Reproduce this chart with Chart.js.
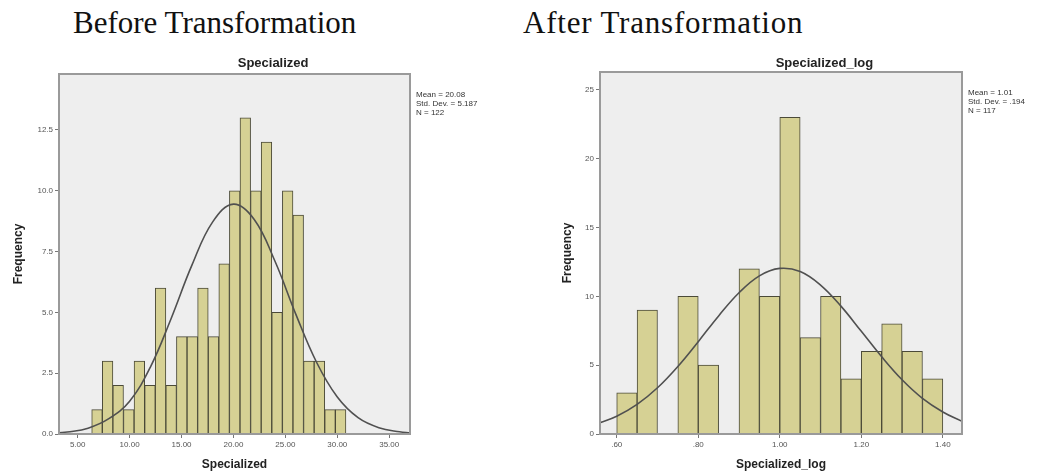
<!DOCTYPE html>
<html>
<head>
<meta charset="utf-8">
<script src="https://cdn.jsdelivr.net/npm/chart.js@4.4.1/dist/chart.umd.min.js"></script>
<style>
    body { margin: 0; background: #fff; width: 1046px; height: 476px; position: relative; overflow: hidden; }
    .heading { position: absolute; font-family: "Liberation Serif", "Times New Roman", serif; font-size: 31px; line-height: 31px; color: #111; white-space: nowrap; }
    .box { position: absolute; top: 50px; height: 426px; }
</style>
</head>
<body>
<div class="heading" style="left: 73px; top: 7px;">Before Transformation</div>
<div class="heading" style="left: 523px; top: 7px; letter-spacing: 0.8px;">After Transformation</div>
<div class="box" style="left: 0; width: 520px;"><canvas id="js--chart--1"></canvas></div>
<div class="box" style="left: 520px; width: 526px;"><canvas id="js--chart--2"></canvas></div>
<script>
// histogram before transformation (bin centres + counts)
const beforeBins = [6.86, 7.88, 8.90, 9.92, 10.94, 11.96, 12.98, 14.00, 15.02, 16.04, 17.06, 18.08,
    19.10, 20.12, 21.14, 22.16, 23.18, 24.20, 25.22, 26.24, 27.26, 28.28, 29.30, 30.32];
const beforeCounts = [1, 3, 2, 1, 3, 2, 6, 2, 4, 4, 6, 4, 7, 10, 13, 10, 12, 5, 10, 9, 3, 3, 1, 1];
// normal curve
const beforeCurveX = [3.2, 4, 6, 8, 10, 12, 14, 16, 18, 20, 22, 24, 26, 28, 30, 32, 34, 36, 37];
const beforeCurveY = [0.05, 0.08, 0.24, 0.63, 1.35, 2.75, 4.75, 6.94, 8.72, 9.45, 8.82, 7.10, 4.93, 2.95, 1.52, 0.67, 0.26, 0.09, 0.05];
const beforeStats = ["Mean = 20.08", "Std. Dev. = 5.187", "N = 122"];

// histogram after transformation
const afterBins = [0.625, 0.675, 0.725, 0.775, 0.825, 0.875, 0.925, 0.975,
    1.025, 1.075, 1.125, 1.175, 1.225, 1.275, 1.325, 1.375];
const afterCounts = [3, 9, 0, 10, 5, 0, 12, 10, 23, 7, 10, 4, 6, 8, 6, 4];
const afterCurveX = [0.559, 0.60, 0.65, 0.70, 0.75, 0.80, 0.85, 0.90, 0.95, 1.00, 1.05, 1.10, 1.15, 1.20, 1.25, 1.30, 1.35, 1.40, 1.447];
const afterCurveY = [0.82, 1.29, 2.15, 3.36, 4.91, 6.71, 8.58, 10.26, 11.49, 12.03, 11.80, 10.82, 9.29, 7.46, 5.61, 3.94, 2.59, 1.60, 0.92];
const afterStats = ["Mean = 1.01", "Std. Dev. = .194", "N = 117"];

const spssFrame = {
    id: 'spssFrame',
    beforeDraw(chart) {
        const a = chart.chartArea, ctx = chart.ctx;
        ctx.save();
        ctx.fillStyle = '#eeeeee';
        ctx.fillRect(a.left, a.top, a.width, a.height);
        ctx.restore();
    },
    afterDraw(chart, args, opts) {
        const a = chart.chartArea, ctx = chart.ctx;
        ctx.save();
        ctx.strokeStyle = '#9a9a9a';
        ctx.lineWidth = 2;
        ctx.strokeRect(a.left, a.top, a.width, a.height);
        ctx.fillStyle = '#222';
        ctx.font = 'bold 13px "Liberation Sans", Arial, sans-serif';
        ctx.textAlign = 'center';
        ctx.textBaseline = 'middle';
        ctx.fillText(opts.title, a.left + a.width * opts.titleAt, a.top - opts.titleGap);
        ctx.font = '8px "Liberation Sans", Arial, sans-serif';
        ctx.fillStyle = '#333';
        ctx.textAlign = 'left';
        opts.stats.forEach(function (line, i) {
            ctx.fillText(line, a.right + 6, a.top + 21 + i * 8.7);
        });
        ctx.restore();
    }
};

function makeConfig(bins, counts, curveX, curveY, opts) {
    return {
        type: 'bar',
        data: {
            datasets: [
                {
                    type: 'line',
                    data: curveX.map(function (x, i) { return {x: x, y: curveY[i]}; }),
                    borderColor: '#505050',
                    borderWidth: 1.6,
                    pointRadius: 0,
                    tension: 0.4,
                    order: 0,
                },
                {
                    data: bins.map(function (x, i) { return {x: x, y: counts[i]}; }),
                    backgroundColor: '#d6d194',
                    borderColor: '#4b4a38',
                    borderWidth: 1,
                    barPercentage: 1,
                    categoryPercentage: 1,
                    order: 1,
                }
            ]
        },
        options: {
            responsive: false,
            animation: false,
            layout: {padding: {top: opts.padTop, right: opts.padRight, left: 0, bottom: 0}},
            plugins: {
                legend: {display: false},
                tooltip: {enabled: false},
                spssFrame: {title: opts.title, titleAt: opts.titleAt, titleGap: opts.titleGap, stats: opts.stats},
            },
            scales: {
                x: {
                    type: 'linear',
                    offset: false,
                    min: opts.xMin,
                    max: opts.xMax,
                    afterFit: function (s) { s.height = 42; },
                    border: {display: false},
                    grid: {drawOnChartArea: false, tickLength: 4, color: '#777', offset: false},
                    ticks: {
                        stepSize: opts.xStep,
                        includeBounds: false,
                        maxRotation: 0,
                        padding: 2,
                        color: '#555',
                        font: {size: 8, family: '"Liberation Sans", Arial, sans-serif'},
                        callback: opts.xFormat,
                    },
                    title: {
                        display: true,
                        text: opts.xTitle,
                        color: '#222',
                        font: {size: 12, weight: 'bold', family: '"Liberation Sans", Arial, sans-serif'},
                        padding: {top: 0, bottom: 4},
                    },
                },
                y: {
                    min: 0,
                    max: opts.yMax,
                    afterFit: function (s) { s.width = opts.yWidth; },
                    border: {display: false},
                    grid: {drawOnChartArea: false, tickLength: 4, color: '#777'},
                    ticks: {
                        stepSize: opts.yStep,
                        includeBounds: false,
                        padding: 2,
                        color: '#555',
                        font: {size: 8, family: '"Liberation Sans", Arial, sans-serif'},
                        callback: opts.yFormat,
                    },
                    title: {
                        display: true,
                        text: 'Frequency',
                        color: '#222',
                        font: {size: 12, weight: 'bold', family: '"Liberation Sans", Arial, sans-serif'},
                        padding: {top: opts.yTitlePad, bottom: 0},
                    },
                }
            }
        },
        plugins: [spssFrame],
    };
}

const config1 = makeConfig(beforeBins, beforeCounts, beforeCurveX, beforeCurveY, {
    padTop: 24, padRight: 110, yWidth: 59, yTitlePad: 11,
    xMin: 3.2, xMax: 37, xStep: 5, yMax: 14.8, yStep: 2.5,
    xFormat: function (v) { return v.toFixed(2); },
    yFormat: function (v) { return v.toFixed(1); },
    xTitle: 'Specialized', title: 'Specialized', titleAt: 0.61, titleGap: 11, stats: beforeStats,
});

const config2 = makeConfig(afterBins, afterCounts, afterCurveX, afterCurveY, {
    padTop: 22, padRight: 84, yWidth: 80, yTitlePad: 40,
    xMin: 0.559, xMax: 1.447, xStep: 0.2, yMax: 26.3, yStep: 5,
    xFormat: function (v) { return v.toFixed(2).replace(/^0/, ''); },
    yFormat: function (v) { return v; },
    xTitle: 'Specialized_log', title: 'Specialized_log', titleAt: 0.62, titleGap: 9, stats: afterStats,
});

const c1 = document.getElementById("js--chart--1");
c1.width = 520; c1.height = 426;
const c2 = document.getElementById("js--chart--2");
c2.width = 526; c2.height = 426;

new Chart(c1, config1);
new Chart(c2, config2);
</script>
</body>
</html>
